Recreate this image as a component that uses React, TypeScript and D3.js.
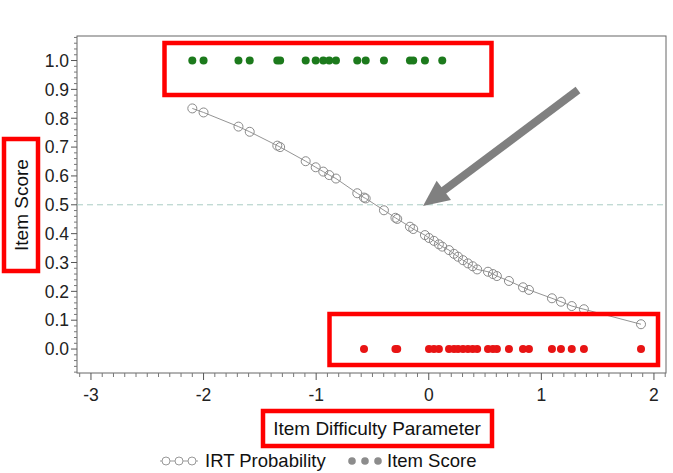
import React from 'react';
import * as d3 from 'd3';

// Item difficulty parameters (b), observed item scores and IRT probabilities
const difficulty = [
  -2.10, -2.00, -1.69, -1.59, -1.345, -1.32, -1.093, -1.004, -0.937, -0.884, -0.824,
  -0.635, -0.575, -0.56, -0.398, -0.296, -0.28, -0.167, -0.138, -0.034, 0.002, 0.046,
  0.09, 0.12, 0.18, 0.224, 0.26, 0.304, 0.348, 0.39, 0.43, 0.526, 0.57, 0.605, 0.712,
  0.837, 0.89, 1.094, 1.174, 1.27, 1.378, 1.885,
];
const itemScore = [
  1, 1, 1, 1, 1, 1, 1, 1, 1, 1, 1,
  1, 0, 1, 1, 0, 0, 1, 1, 1, 0, 0,
  0, 1, 0, 0, 0, 0, 0, 0, 0, 0, 0, 0, 0,
  0, 0, 0, 0, 0, 0, 0,
];
const irtProb = [
  0.834, 0.820, 0.771, 0.753, 0.705, 0.700, 0.651, 0.630, 0.615, 0.603, 0.591,
  0.540, 0.525, 0.522, 0.481, 0.455, 0.451, 0.424, 0.416, 0.395, 0.385, 0.375,
  0.363, 0.355, 0.343, 0.330, 0.320, 0.308, 0.297, 0.287, 0.276, 0.268, 0.260, 0.253, 0.236,
  0.214, 0.205, 0.176, 0.164, 0.149, 0.138, 0.086,
];
const xTicks = [-3, -2, -1, 0, 1, 2];
const yTicks = [0, 0.1, 0.2, 0.3, 0.4, 0.5, 0.6, 0.7, 0.8, 0.9, 1.0];
const refLine = 0.5;

const W = 673;
const H = 473;
const FONT = 'Arial, "Liberation Sans", sans-serif';
const GREEN = '#1c7a1c';
const RED = '#e81414';
const BOX = '#ff0000';

export default function App() {
  const x = d3.scaleLinear().domain([-3.124, 2.107]).range([77, 666]);
  const y = d3.scaleLinear().domain([-0.083, 1.085]).range([373, 36]);
  const [x0, x1] = x.range();
  const [y0, y1] = y.range();

  const pts = difficulty.map((d, i) => ({ b: d, s: itemScore[i], p: irtProb[i] }));
  const line = d3.line<{ b: number; p: number }>().x(d => x(d.b)).y(d => y(d.p));

  const xMinor = d3.range(-31, 22).map(v => v / 10).filter(v => !xTicks.includes(Math.round(v * 10) / 10) && x(v) >= x0 && x(v) <= x1);
  const yMinor = d3.range(-4, 55).map(v => v / 50).filter(v => Math.abs(v * 10 - Math.round(v * 10)) > 1e-6 && y(v) <= y0 && y(v) >= y1);

  // annotation arrow
  const aStart = [578, 90];
  const aTip = [423, 206];
  const dx = aTip[0] - aStart[0];
  const dy = aTip[1] - aStart[1];
  const len = Math.hypot(dx, dy);
  const ux = dx / len, uy = dy / len;
  const headL = 26, headW = 12;
  const bx = aTip[0] - ux * headL, by = aTip[1] - uy * headL;
  const nx = -uy, ny = ux;
  const head = `${aTip[0]},${aTip[1]} ${bx + nx * headW},${by + ny * headW} ${bx - nx * headW},${by - ny * headW}`;

  return (
    <svg width={W} height={H} style={{ position: 'absolute', left: 0, top: 0, background: '#fff' }} fontFamily={FONT}>
      <rect x={0} y={0} width={W} height={H} fill="#fff" />
      {/* frame */}
      <rect x={x0} y={y1} width={x1 - x0} height={y0 - y1} fill="none" stroke="#666" strokeWidth={1} />
      {/* reference line */}
      <line x1={x0} x2={x1} y1={y(refLine)} y2={y(refLine)} stroke="#a9ccc4" strokeWidth={1} strokeDasharray="6,4" />

      {/* y axis */}
      {yTicks.map(t => (
        <g key={'y' + t}>
          <line x1={x0 - 6} x2={x0} y1={y(t)} y2={y(t)} stroke="#555" />
          <text x={x0 - 8} y={y(t)} dy="0.36em" textAnchor="end" fontSize={17.5} fill="#222">{t.toFixed(1)}</text>
        </g>
      ))}
      {yMinor.map(t => (
        <line key={'ym' + t} x1={x0 - 3} x2={x0} y1={y(t)} y2={y(t)} stroke="#777" />
      ))}
      {/* x axis */}
      {xTicks.map(t => (
        <g key={'x' + t}>
          <line x1={x(t)} x2={x(t)} y1={y0} y2={y0 + 7} stroke="#555" />
          <text x={x(t)} y={y0 + 28} textAnchor="middle" fontSize={17.5} fill="#222">{t}</text>
        </g>
      ))}
      {xMinor.map(t => (
        <line key={'xm' + t} x1={x(t)} x2={x(t)} y1={y0} y2={y0 + 4} stroke="#777" />
      ))}

      {/* IRT probability curve */}
      <path d={line(pts) || ''} fill="none" stroke="#888" strokeWidth={0.9} />
      {pts.map((d, i) => (
        <circle key={'c' + i} cx={x(d.b)} cy={y(d.p)} r={4.5} fill="none" stroke="#8a8a8a" strokeWidth={1} />
      ))}

      {/* item scores */}
      {pts.map((d, i) => (
        <circle key={'s' + i} cx={x(d.b)} cy={y(d.s)} r={4} fill={d.s === 1 ? GREEN : RED} />
      ))}

      {/* axis titles */}
      <text x={377} y={435} textAnchor="middle" fontSize={19} fill="#111">Item Difficulty Parameter</text>
      <text transform="translate(28,205) rotate(-90)" textAnchor="middle" fontSize={19} fill="#111">Item Score</text>

      {/* legend */}
      <line x1={160} x2={198} y1={461} y2={461} stroke="#999" strokeWidth={1} />
      {[166, 179, 192].map(cx => (
        <circle key={'lc' + cx} cx={cx} cy={461} r={4} fill="#fff" stroke="#999" strokeWidth={1} />
      ))}
      <text x={205} y={467} fontSize={18.5} fill="#111">IRT Probability</text>
      {[352, 365, 378].map(cx => (
        <circle key={'ld' + cx} cx={cx} cy={461} r={3.8} fill="#8c8c8c" />
      ))}
      <text x={387} y={467} fontSize={18.5} fill="#111">Item Score</text>

      {/* annotations */}
      <rect x={164.5} y={43} width={327} height={52} fill="none" stroke={BOX} strokeWidth={4.5} />
      <rect x={329.5} y={314} width={328.5} height={51} fill="none" stroke={BOX} strokeWidth={4.5} />
      <rect x={4} y={139} width={34} height={132} fill="none" stroke={BOX} strokeWidth={4.5} />
      <rect x={263} y={411} width={229} height={35} fill="none" stroke={BOX} strokeWidth={4.5} />
      <line x1={aStart[0]} y1={aStart[1]} x2={bx + ux * 2} y2={by + uy * 2} stroke="#808080" strokeWidth={8} />
      <polygon points={head} fill="#808080" />
    </svg>
  );
}
